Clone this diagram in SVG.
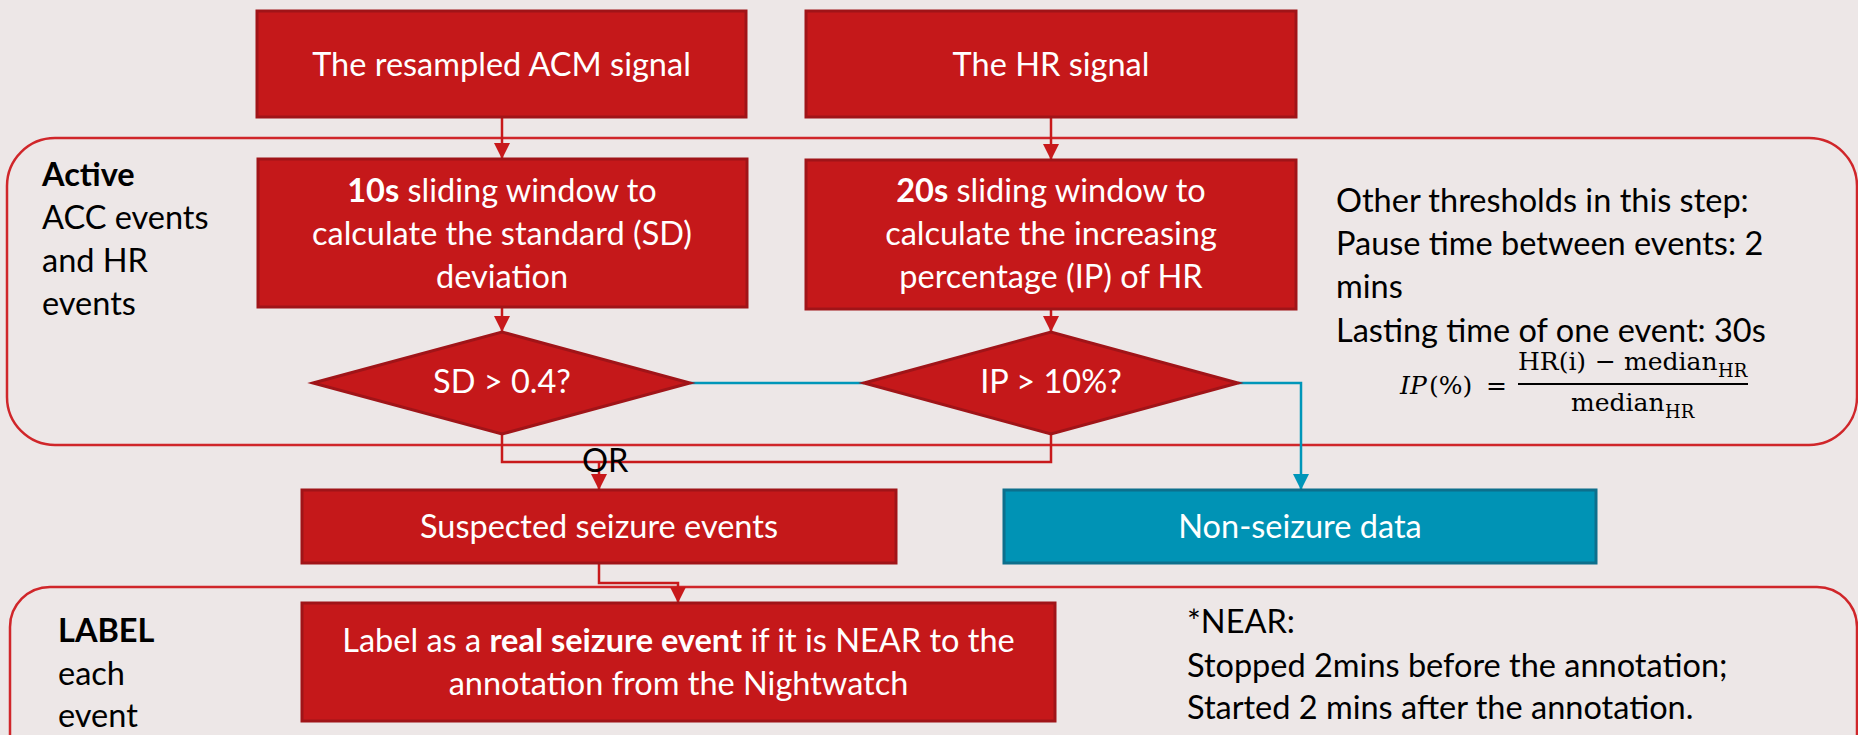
<svg xmlns="http://www.w3.org/2000/svg" width="1858" height="735" viewBox="0 0 1858 735">
<defs>
<style>
.bg{fill:#EDE7E7}
.box{fill:#C5181A;stroke:#A01418;stroke-width:3}
.teal{fill:#0093B5;stroke:#0D6F8C;stroke-width:3}
.cont{fill:none;stroke:#D0262A;stroke-width:2.5}
.rl{fill:none;stroke:#C8191B;stroke-width:2.5}
.bl{fill:none;stroke:#0096B9;stroke-width:2.5}
.t{font-family:Lato,"Liberation Sans",sans-serif;font-size:32.5px}
.w{fill:#FFFFFF}
.k{fill:#000000}
.c{text-anchor:middle}
.b{font-weight:bold}
.m{font-family:"DejaVu Serif","Liberation Serif",serif;font-size:25px;fill:#000}
.ms{font-family:"DejaVu Serif","Liberation Serif",serif;font-size:18px;fill:#000}
</style>
<marker id="ar" viewBox="0 0 16 16" refX="16" refY="8" markerWidth="16" markerHeight="16" markerUnits="userSpaceOnUse" orient="auto">
<path d="M0,0 L16,8 L0,16 Z" fill="#C8191B"/>
</marker>
<marker id="ab" viewBox="0 0 16 16" refX="16" refY="8" markerWidth="16" markerHeight="16" markerUnits="userSpaceOnUse" orient="auto">
<path d="M0,0 L16,8 L0,16 Z" fill="#0096B9"/>
</marker>
</defs>
<rect class="bg" x="0" y="0" width="1858" height="735"/>

<g id="container-active">
<rect class="cont" x="7" y="138" width="1850" height="307" rx="48" ry="48"/>
<text class="t k" x="42" y="186"><tspan class="b">Active</tspan></text>
<text class="t k" x="42" y="229">ACC events</text>
<text class="t k" x="42" y="272">and HR</text>
<text class="t k" x="42" y="315">events</text>
</g>

<g id="container-label">
<rect class="cont" x="10" y="587" width="1847" height="200" rx="40" ry="40"/>
<text class="t k b" x="58" y="642">LABEL</text>
<text class="t k" x="58" y="685">each</text>
<text class="t k" x="58" y="727">event</text>
</g>

<g id="connectors">
<line class="rl" x1="502" y1="117" x2="502" y2="159" marker-end="url(#ar)"/>
<line class="rl" x1="1051" y1="117" x2="1051" y2="160" marker-end="url(#ar)"/>
<line class="rl" x1="502" y1="307" x2="502" y2="332" marker-end="url(#ar)"/>
<line class="rl" x1="1051" y1="309" x2="1051" y2="332" marker-end="url(#ar)"/>
<polyline class="rl" points="502,434 502,462 1051,462 1051,434"/>
<line class="rl" x1="599" y1="462" x2="599" y2="490" marker-end="url(#ar)"/>
<polyline class="rl" points="599,563 599,583 678,583 678,603" marker-end="url(#ar)"/>
<line class="bl" x1="690" y1="383" x2="864" y2="383"/>
<polyline class="bl" points="1238,383 1301,383 1301,490" marker-end="url(#ab)"/>
<text class="t k" x="582" y="472">OR</text>
</g>

<g id="node-acm">
<rect class="box" x="257" y="11" width="489" height="106"/>
<text class="t w c" x="501.5" y="76">The resampled ACM signal</text>
</g>

<g id="node-hr">
<rect class="box" x="806" y="11" width="490" height="106"/>
<text class="t w c" x="1051" y="76">The HR signal</text>
</g>

<g id="node-sd-window">
<rect class="box" x="258" y="159" width="489" height="148"/>
<text class="t w c" x="502" y="202"><tspan class="b">10s</tspan> sliding window to</text>
<text class="t w c" x="502" y="245">calculate the standard (SD)</text>
<text class="t w c" x="502" y="288">deviation</text>
</g>

<g id="node-ip-window">
<rect class="box" x="806" y="160" width="490" height="149"/>
<text class="t w c" x="1051" y="202"><tspan class="b">20s</tspan> sliding window to</text>
<text class="t w c" x="1051" y="245">calculate the increasing</text>
<text class="t w c" x="1051" y="288">percentage (IP) of HR</text>
</g>

<g id="node-sd-check">
<polygon class="box" points="313,383 502,332 690,383 502,434"/>
<text class="t w c" x="502" y="393">SD &gt; 0.4?</text>
</g>

<g id="node-ip-check">
<polygon class="box" points="864,383 1051,332 1238,383 1051,434"/>
<text class="t w c" x="1051" y="393">IP &gt; 10%?</text>
</g>

<g id="node-suspected">
<rect class="box" x="302" y="490" width="594" height="73"/>
<text class="t w c" x="599" y="538">Suspected seizure events</text>
</g>

<g id="node-nonseizure">
<rect class="teal" x="1004" y="490" width="592" height="73"/>
<text class="t w c" x="1300" y="538">Non-seizure data</text>
</g>

<g id="node-label">
<rect class="box" x="302" y="603" width="753" height="118"/>
<text class="t w c" x="678.5" y="652">Label as a <tspan class="b">real seizure event</tspan> if it is NEAR to the</text>
<text class="t w c" x="678.5" y="695">annotation from the Nightwatch</text>
</g>

<g id="note-thresholds">
<text class="t k" x="1336" y="212">Other thresholds in this step:</text>
<text class="t k" x="1336" y="255">Pause time between events: 2</text>
<text class="t k" x="1336" y="298">mins</text>
<text class="t k" x="1336" y="342">Lasting time of one event: 30s</text>
<text class="m" x="1400" y="394" font-style="italic">IP</text>
<text class="m" x="1429" y="394">(%)</text>
<text class="m" x="1486" y="394">=</text>
<text class="m" x="1518" y="370">HR(i)</text>
<text class="m" x="1595" y="370">−</text>
<text class="m" x="1624" y="370">median</text>
<text class="ms" x="1718" y="377">HR</text>
<line x1="1518" y1="384" x2="1748" y2="384" stroke="#000" stroke-width="2"/>
<text class="m" x="1571" y="411">median</text>
<text class="ms" x="1665" y="418">HR</text>
</g>

<g id="note-near">
<text class="t k" x="1187" y="633">*NEAR:</text>
<text class="t k" x="1187" y="677">Stopped 2mins before the annotation;</text>
<text class="t k" x="1187" y="719">Started 2 mins after the annotation.</text>
</g>
</svg>
